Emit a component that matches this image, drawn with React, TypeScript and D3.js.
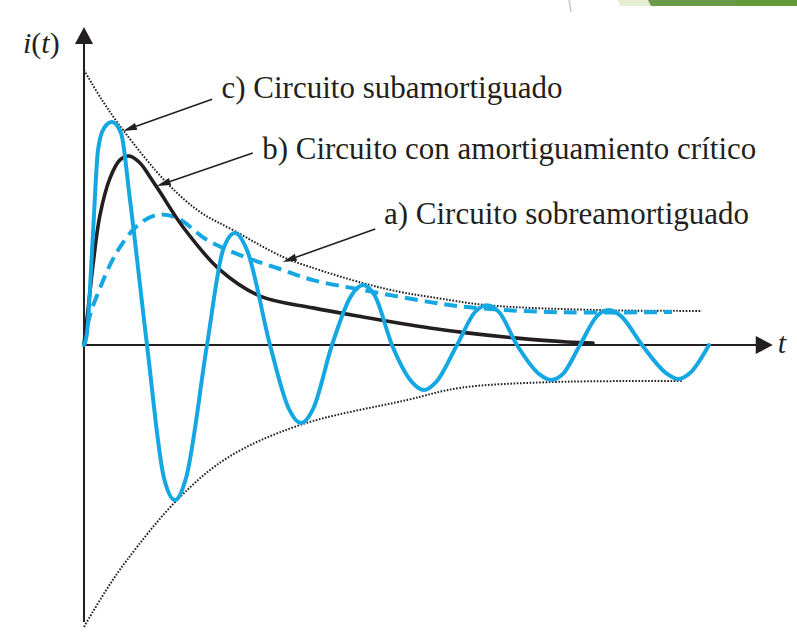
import React from "react";
import * as d3 from "d3";

const W = 797;
const H = 637;

// t in arbitrary time units, i(t) normalised to the envelope's starting value
const subamortiguado: [number, number][] = [
  [0, 0], [0.048, 0.044], [0.144, 0.407], [0.224, 0.709], [0.32, 0.789],
  [0.448, 0.811], [0.592, 0.771], [0.736, 0.527], [1.008, 0],
  [1.28, -0.484], [1.456, -0.564], [1.632, -0.484], [1.968, 0],
  [2.224, 0.345], [2.416, 0.407], [2.608, 0.345], [2.976, 0],
  [3.28, -0.233], [3.472, -0.284], [3.664, -0.233], [3.968, 0],
  [4.272, 0.178], [4.464, 0.218], [4.656, 0.178], [4.928, 0],
  [5.248, -0.135], [5.44, -0.164], [5.632, -0.135], [5.968, 0],
  [6.256, 0.12], [6.448, 0.145], [6.64, 0.12], [6.928, 0],
  [7.28, -0.105], [7.472, -0.127], [7.664, -0.105], [7.936, 0],
  [8.208, 0.105], [8.4, 0.127], [8.592, 0.105], [8.928, 0],
  [9.312, -0.102], [9.504, -0.124], [9.696, -0.102], [10.0, 0],
];

const critico: [number, number][] = [
  [0, 0], [0.064, 0.127], [0.144, 0.291], [0.256, 0.473], [0.416, 0.607],
  [0.576, 0.673], [0.72, 0.687], [0.896, 0.662], [1.056, 0.611],
  [1.216, 0.556], [1.584, 0.429], [2.176, 0.273], [2.816, 0.178],
  [3.664, 0.135], [4.464, 0.102], [5.536, 0.062], [6.128, 0.044],
  [6.928, 0.025], [7.728, 0.011], [8.144, 0.007],
];

const sobreamortiguado: [number, number][] = [
  [0, 0], [0.096, 0.109], [0.256, 0.207], [0.416, 0.291], [0.576, 0.356],
  [0.848, 0.433], [1.168, 0.473], [1.488, 0.462], [1.968, 0.382],
  [2.496, 0.327], [3.088, 0.28], [3.664, 0.236], [4.464, 0.2],
  [5.536, 0.156], [6.128, 0.138], [7.456, 0.12], [9.408, 0.12],
];

const envolventeSup: [number, number][] = [
  [0, 1.0], [0.288, 0.891], [0.624, 0.782], [1.328, 0.589], [1.856, 0.484],
  [2.384, 0.418], [3.184, 0.32], [3.616, 0.284], [4.464, 0.225],
  [5.056, 0.193], [5.536, 0.175], [6.448, 0.145], [8.256, 0.127],
  [9.888, 0.124],
];

const envolventeInf: [number, number][] = [
  [0, -1.025], [0.336, -0.898], [0.688, -0.782], [1.488, -0.564],
  [2.288, -0.411], [3.456, -0.291], [5.168, -0.2], [6.016, -0.156],
  [7.456, -0.135], [9.584, -0.131],
];

// annotation text, anchor of the text (t, i), start of the leader and the point it reaches
const etiquetas = [
  "c) Circuito subamortiguado",
  "b) Circuito con amortiguamiento crítico",
  "a) Circuito sobreamortiguado",
];
const etiquetaPos: [number, number][] = [[2.2, 0.9], [2.85, 0.676], [4.8, 0.44]];
const lineaDesde: [number, number][] = [[2.05, 0.894], [2.7, 0.698], [4.66, 0.422]];
const lineaHasta: [number, number][] = [[0.624, 0.778], [1.165, 0.578], [3.18, 0.302]];

const tMax = 11.02;
const iTop = 1.156;
const iBottom = -1.007;

const x = d3.scaleLinear().domain([0, 11]).range([84, 771.5]);
const y = d3.scaleLinear().domain([-1, 1]).range([620, 70]);

const smooth = d3
  .line<[number, number]>()
  .x((d) => x(d[0]))
  .y((d) => y(d[1]))
  .curve(d3.curveCatmullRom.alpha(0.5));

const wave = d3
  .line<[number, number]>()
  .x((d) => x(d[0]))
  .y((d) => y(d[1]))
  .curve(d3.curveMonotoneX);

const INK = "#231f20";
const BLUE = "#15a7e2";
const SERIF = "'Liberation Serif', 'Times New Roman', serif";

function Arrow({ from, to }: { from: [number, number]; to: [number, number] }) {
  const x1 = x(from[0]);
  const y1 = y(from[1]);
  const x2 = x(to[0]);
  const y2 = y(to[1]);
  const ang = Math.atan2(y2 - y1, x2 - x1);
  const len = 14;
  const hw = 3.6;
  const bx = x2 - len * Math.cos(ang);
  const by = y2 - len * Math.sin(ang);
  const px = -Math.sin(ang) * hw;
  const py = Math.cos(ang) * hw;
  return (
    <g>
      <line x1={x1} y1={y1} x2={bx} y2={by} stroke={INK} strokeWidth={1.6} />
      <path
        d={`M${x2},${y2}L${bx + px},${by + py}L${bx - px},${by - py}Z`}
        fill={INK}
      />
    </g>
  );
}

export default function App() {
  const x0 = x(0);
  const y0 = y(0);
  const xEnd = x(tMax);
  const yTop = y(iTop);
  const yBot = y(iBottom);
  return (
    <svg
      width={W}
      height={H}
      viewBox={`0 0 ${W} ${H}`}
      style={{ position: "absolute", left: 0, top: 0, background: "#fff" }}
    >
      {/* slide trim in the top corner */}
      <path d="M569,0 L571,12" stroke="#bbb" strokeWidth={1.2} fill="none" />
      <path d="M618,0 H650 L652,6 H620 Z" fill="#e4eed2" />
      <path d="M648,0 H735 V6 H651 Z" fill="#6c9a4b" />
      <rect x={735} y={0} width={62} height={6} fill="#659a3b" />

      {/* envelopes */}
      <path
        d={smooth(envolventeSup) ?? ""}
        fill="none"
        stroke="#222"
        strokeWidth={2}
        strokeDasharray="1.6 1.6"
      />
      <path
        d={smooth(envolventeInf) ?? ""}
        fill="none"
        stroke="#222"
        strokeWidth={2}
        strokeDasharray="1.6 1.6"
      />

      {/* axes */}
      <line x1={x0} y1={y0} x2={xEnd - 16} y2={y0} stroke={INK} strokeWidth={2} />
      <path d={`M${xEnd},${y0}L${xEnd - 17},${y0 - 9}L${xEnd - 17},${y0 + 9}Z`} fill={INK} />
      <line x1={x0} y1={yBot} x2={x0} y2={yTop + 16} stroke={INK} strokeWidth={2} />
      <path d={`M${x0},${yTop}L${x0 - 9},${yTop + 17}L${x0 + 9},${yTop + 17}Z`} fill={INK} />

      {/* responses */}
      <path
        d={smooth(sobreamortiguado) ?? ""}
        fill="none"
        stroke={BLUE}
        strokeWidth={4}
        strokeDasharray="13 7"
      />
      <path
        d={smooth(critico) ?? ""}
        fill="none"
        stroke={INK}
        strokeWidth={3.6}
        strokeLinecap="round"
      />
      <path
        d={wave(subamortiguado) ?? ""}
        fill="none"
        stroke={BLUE}
        strokeWidth={4}
        strokeLinecap="round"
        strokeLinejoin="round"
      />

      {/* axis labels */}
      <text x={23} y={53} fontFamily={SERIF} fontSize={30} fill={INK}>
        <tspan fontStyle="italic">i</tspan>(<tspan fontStyle="italic">t</tspan>)
      </text>
      <text x={xEnd + 5} y={y0 + 8} fontFamily={SERIF} fontSize={30} fontStyle="italic" fill={INK}>
        t
      </text>

      {/* annotations */}
      {etiquetas.map((txt, k) => (
        <g key={txt}>
          <Arrow from={lineaDesde[k]} to={lineaHasta[k]} />
          <text
            x={x(etiquetaPos[k][0])}
            y={y(etiquetaPos[k][1])}
            fontFamily={SERIF}
            fontSize={31}
            fill={INK}
          >
            {txt}
          </text>
        </g>
      ))}
    </svg>
  );
}
